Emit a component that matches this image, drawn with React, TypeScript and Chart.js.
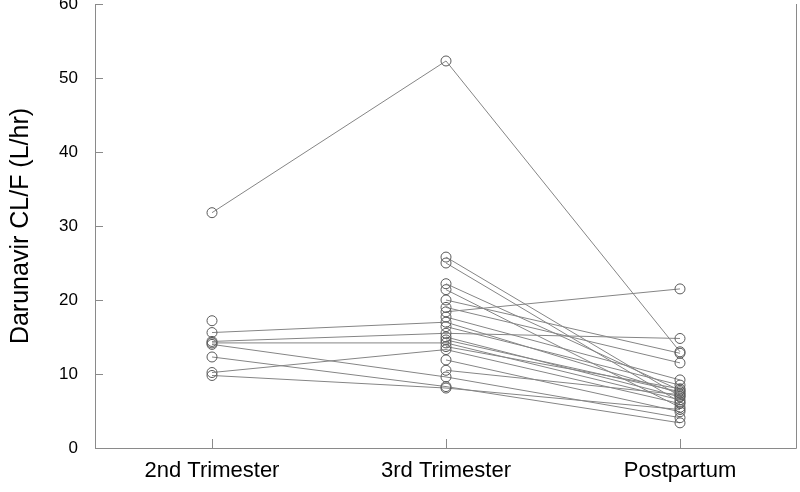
import React, { useEffect, useRef } from "react";
import { Chart, registerables } from "chart.js";

Chart.register(...registerables);

const categories = ["2nd Trimester", "3rd Trimester", "Postpartum"];
const yTicks = [0, 10, 20, 30, 40, 50, 60];

// one entry per subject; null = not measured
const secondTrimester: (number | null)[] = [
  31.8, 15.6, 14.4, 14.2, 14.0, 12.3, 10.2, 9.8, 17.2,
  null, null, null, null, null, null, null, null, null, null, null, null, null, null,
];
const thirdTrimester: (number | null)[] = [
  52.3, 17.0, 15.5, 14.2, 9.6, 8.3, 13.3, 8.1, null,
  25.8, 25.0, 22.2, 21.4, 20.0, 19.0, 18.4, 17.7, 16.4, 15.0, 14.6, 13.7, 11.9, 10.5,
];
const postpartum: (number | null)[] = [
  13.0, 7.4, 14.8, 6.5, 4.1, 3.4, 6.0, 5.2, null,
  7.0, 6.2, 7.8, 5.5, 12.8, 11.5, 21.5, 9.2, 8.5, 6.9, 7.6, 8.0, 4.9, 7.2,
];

const FONT = "'Liberation Sans', Arial, Helvetica, sans-serif";

const framePlugin = {
  id: "frame",
  afterDraw(chart: any) {
    const { ctx, chartArea } = chart;
    const { left, right, top, bottom } = chartArea;
    const xs = chart.scales.x;
    const ys = chart.scales.y;
    ctx.save();
    ctx.strokeStyle = "#8a8a8a";
    ctx.lineWidth = 1;
    ctx.beginPath();
    // left, bottom, right (bty = "u")
    ctx.moveTo(left + 0.5, top);
    ctx.lineTo(left + 0.5, bottom + 0.5);
    ctx.lineTo(right - 0.5, bottom + 0.5);
    ctx.lineTo(right - 0.5, top);
    // inward ticks
    ys.ticks.forEach((_t: any, i: number) => {
      const y = Math.round(ys.getPixelForTick(i)) + 0.5;
      ctx.moveTo(left, y);
      ctx.lineTo(left + 8, y);
    });
    xs.ticks.forEach((_t: any, i: number) => {
      const x = Math.round(xs.getPixelForTick(i)) + 0.5;
      ctx.moveTo(x, bottom);
      ctx.lineTo(x, bottom - 9);
    });
    ctx.stroke();
    ctx.restore();
  },
};

export default function App() {
  const ref = useRef<HTMLCanvasElement>(null);

  useEffect(() => {
    document.body.style.margin = "0";
    const datasets = secondTrimester.map((_, i) => ({
      data: [secondTrimester[i], thirdTrimester[i], postpartum[i]],
      borderColor: "#858585",
      borderWidth: 1,
      pointRadius: 5,
      pointBorderWidth: 1,
      pointBorderColor: "#5a5a5a",
      pointBackgroundColor: "rgba(0,0,0,0)",
      pointStyle: "circle",
      spanGaps: false,
      fill: false,
      tension: 0,
    }));
    const chart = new Chart(ref.current!, {
      type: "line",
      data: { labels: categories, datasets },
      plugins: [framePlugin],
      options: {
        animation: false,
        responsive: false,
        layout: { autoPadding: false, padding: { top: 4, right: 3, left: 0, bottom: 0 } },
        plugins: { legend: { display: false }, tooltip: { enabled: false } },
        scales: {
          x: {
            type: "category",
            offset: true,
            grid: { display: false, drawTicks: false, offset: false },
            border: { display: false },
            ticks: {
              color: "#000",
              padding: 10,
              maxRotation: 0,
              font: { family: FONT, size: 22 },
            },
            afterFit(scale: any) {
              scale.height = 44;
              scale.paddingLeft = 0;
              scale.paddingRight = 0;
            },
          },
          y: {
            min: 0,
            max: 60,
            grid: { display: false, drawTicks: false },
            border: { display: false },
            afterBuildTicks(scale: any) {
              scale.ticks = yTicks.map((v) => ({ value: v }));
            },
            ticks: {
              color: "#000",
              padding: 17,
              font: { family: FONT, size: 17 },
            },
            title: {
              display: true,
              text: "Darunavir CL/F (L/hr)",
              color: "#000",
              font: { family: FONT, size: 25 },
              padding: { top: 6, bottom: 0 },
            },
            afterFit(scale: any) {
              scale.width = 95;
              scale.paddingTop = 0;
              scale.paddingBottom = 0;
            },
          },
        },
      },
    });
    return () => chart.destroy();
  }, []);

  return <canvas ref={ref} width={800} height={492} style={{ display: "block" }} />;
}
